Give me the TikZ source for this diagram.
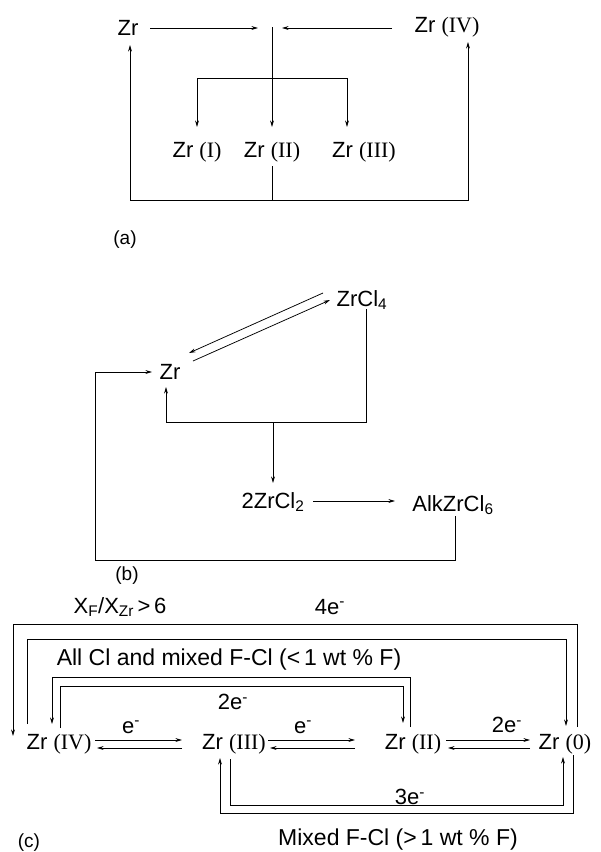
\documentclass[tikz,border=0pt]{standalone}
\usepackage{fontspec}
\setmainfont{Liberation Sans}
\newfontfamily\rmnfont{Liberation Serif}
\usetikzlibrary{arrows.meta}
\newcommand{\rnum}[1]{{\rmnfont #1}}
\tikzset{
  lab/.style={inner sep=0pt, anchor=center, font=\fontsize{22}{24}\selectfont},
  wlab/.style={inner sep=0pt, anchor=center, font=\fontsize{23}{25}\selectfont},
  plab/.style={inner sep=0pt, anchor=center, font=\fontsize{19}{21}\selectfont},
  ln/.style={line width=0.75pt, draw=black},
  arr/.style={ln, -{Stealth[length=6.5pt,width=3.8pt]}},
}
\begin{document}
\begin{tikzpicture}[x=1pt,y=-1pt]
\useasboundingbox (0,0) rectangle (601,852);
% ---------------- (a)
\node[lab] (aZr) at (128,28) {Zr};
\node[lab] (aZrIV) at (447,27) {Zr \rnum{(IV)}};
\node[lab] (aZrI) at (197,152) {Zr \rnum{(I)}};
\node[lab] (aZrII) at (272,152) {Zr \rnum{(II)}};
\node[lab] (aZrIII) at (364,152) {Zr \rnum{(III)}};
\node[plab] (alab) at (125,240) {(a)};
\coordinate (aA1) at (150,28); \coordinate (aA2) at (258,28);
\coordinate (aB1) at (392,28); \coordinate (aB2) at (282,28);
\coordinate (aTop) at (272,27); \coordinate (aJ) at (272,78);
\coordinate (aJL) at (197,78); \coordinate (aJR) at (347,78);
\coordinate (aT1) at (197,127); \coordinate (aT2) at (272,127); \coordinate (aT3) at (347,127);
\coordinate (aS) at (272,166); \coordinate (aBot) at (272,200);
\coordinate (aBL) at (130,200); \coordinate (aBR) at (468,200);
\coordinate (aUL) at (130,45); \coordinate (aUR) at (468,42);
\draw[arr] (aA1) -- (aA2);
\draw[arr] (aB1) -- (aB2);
\draw[arr] (aTop) -- (aT2);
\draw[ln] (aJL) -- (aJR);
\draw[arr] (aJL) -- (aT1);
\draw[arr] (aJR) -- (aT3);
\draw[ln] (aS) -- (aBot);
\draw[arr] (aBot) -- (aBL) -- (aUL);
\draw[arr] (aBot) -- (aBR) -- (aUR);
% ---------------- (b)
\node[lab] (bZrCl4) at (362,300) {ZrCl\textsubscript{4}};
\node[lab] (bZr) at (170,372) {Zr};
\node[lab] (bZrCl2) at (273,502) {2ZrCl\textsubscript{2}};
\node[lab] (bAlk) at (453,505) {AlkZrCl\textsubscript{6}};
\node[plab] (blab) at (127,576) {(b)};
\coordinate (bD1s) at (323,293); \coordinate (bD1e) at (189,353);
\coordinate (bD2s) at (193,361); \coordinate (bD2e) at (330,300);
\coordinate (bC1) at (366,309); \coordinate (bC2) at (366,422);
\coordinate (bJ) at (273,422); \coordinate (bC3) at (166,422); \coordinate (bC4) at (166,387);
\coordinate (bJe) at (273,483);
\coordinate (bE1) at (313,501); \coordinate (bE2) at (395,501);
\coordinate (bF1) at (455,516); \coordinate (bF2) at (455,560);
\coordinate (bF3) at (95,560); \coordinate (bF4) at (95,372); \coordinate (bF5) at (152,372);
\draw[arr] (bD1s) -- (bD1e);
\draw[arr] (bD2s) -- (bD2e);
\draw[arr] (bC1) -- (bC2) -- (bC3) -- (bC4);
\draw[arr] (bJ) -- (bJe);
\draw[arr] (bE1) -- (bE2);
\draw[arr] (bF1) -- (bF2) -- (bF3) -- (bF4) -- (bF5);
% ---------------- (c)
\node[lab] (cXF) at (120,607) {X\textsubscript{F}/X\textsubscript{Zr}\,>\,6};
\node[lab] (c4e) at (330,607) {4e\textsuperscript{-}};
\node[wlab] (cAll) at (229,660) {All Cl and mixed F-Cl (<\,1 wt \% F)};
\node[lab] (c2eT) at (233,702) {2e\textsuperscript{-}};
\node[lab] (cIV) at (59,744) {Zr \rnum{(IV)}};
\node[lab] (cIII) at (234,744) {Zr \rnum{(III)}};
\node[lab] (cII) at (413,744) {Zr \rnum{(II)}};
\node[lab] (c0) at (565,744) {Zr \rnum{(0)}};
\node[lab] (ce1) at (131,727) {e\textsuperscript{-}};
\node[lab] (ce2) at (303,727) {e\textsuperscript{-}};
\node[lab] (c2e) at (507,725) {2e\textsuperscript{-}};
\node[lab] (c3e) at (410,797) {3e\textsuperscript{-}};
\node[wlab] (cMix) at (398,840) {Mixed F-Cl (>\,1 wt \% F)};
\node[plab] (clab) at (29,843) {(c)};
% 4e- pair
\coordinate (p1a) at (577,727); \coordinate (p1b) at (577,624);
\coordinate (p1c) at (13,624); \coordinate (p1d) at (13,736);
\coordinate (p2a) at (27,724); \coordinate (p2b) at (27,639);
\coordinate (p2c) at (566,639); \coordinate (p2d) at (566,726);
\draw[arr] (p1a) -- (p1b) -- (p1c) -- (p1d);
\draw[arr] (p2a) -- (p2b) -- (p2c) -- (p2d);
% 2e- pair
\coordinate (q1a) at (410,727); \coordinate (q1b) at (410,677);
\coordinate (q1c) at (52,677); \coordinate (q1d) at (52,724);
\coordinate (q2a) at (60,728); \coordinate (q2b) at (60,686);
\coordinate (q2c) at (403,686); \coordinate (q2d) at (403,723);
\draw[arr] (q1a) -- (q1b) -- (q1c) -- (q1d);
\draw[arr] (q2a) -- (q2b) -- (q2c) -- (q2d);
% equilibria
\coordinate (e1a) at (95,740); \coordinate (e1b) at (182,740);
\coordinate (e1c) at (182,748); \coordinate (e1d) at (97,748);
\coordinate (e2a) at (268,740); \coordinate (e2b) at (355,740);
\coordinate (e2c) at (355,748); \coordinate (e2d) at (270,748);
\coordinate (e3a) at (446,740); \coordinate (e3b) at (530,740);
\coordinate (e3c) at (530,748); \coordinate (e3d) at (448,748);
\draw[arr] (e1a) -- (e1b); \draw[arr] (e1c) -- (e1d);
\draw[arr] (e2a) -- (e2b); \draw[arr] (e2c) -- (e2d);
\draw[arr] (e3a) -- (e3b); \draw[arr] (e3c) -- (e3d);
% 3e- pair
\coordinate (r1a) at (230,759); \coordinate (r1b) at (230,805);
\coordinate (r1c) at (563,805); \coordinate (r1d) at (563,757);
\coordinate (r2a) at (573,755); \coordinate (r2b) at (573,813);
\coordinate (r2c) at (220,813); \coordinate (r2d) at (220,758);
\draw[arr] (r1a) -- (r1b) -- (r1c) -- (r1d);
\draw[arr] (r2a) -- (r2b) -- (r2c) -- (r2d);
\end{tikzpicture}
\end{document}
